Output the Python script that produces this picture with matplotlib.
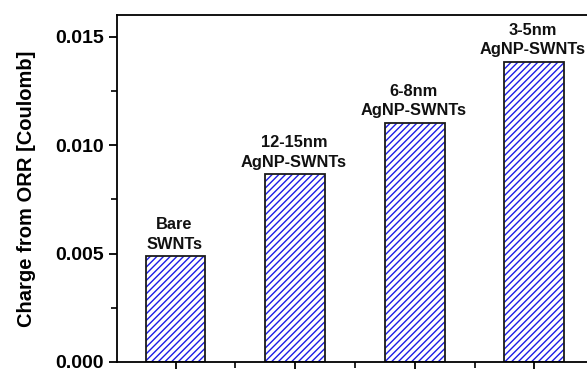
import numpy as np
import matplotlib
matplotlib.use("Agg")
import matplotlib.pyplot as plt

plt.rcParams['font.family'] = ['Liberation Sans', 'DejaVu Sans']
plt.rcParams['font.weight'] = 'bold'
plt.rcParams['hatch.linewidth'] = 1.0

# charge from ORR for each electrode
samples = ["Bare\nSWNTs", "12-15nm\nAgNP-SWNTs", "6-8nm\nAgNP-SWNTs", "3-5nm\nAgNP-SWNTs"]
charge = [0.00488, 0.00865, 0.01104, 0.01385]
pos = np.arange(1, len(samples) + 1)

fig = plt.figure(figsize=(5.87, 3.69), dpi=100)
ax = fig.add_axes([117/587, 7/369, (587 - 117)/587 + 0.01, (362 - 15)/369])

# hatch in blue, outline in black
ax.bar(pos, charge, width=0.5, color='white', edgecolor='#1c1ce6', hatch='/////', linewidth=0)
ax.bar(pos, charge, width=0.5, fill=False, edgecolor='#1a1a1a', linewidth=1.3)

for x, y, s in zip(pos, charge, samples):
    ax.annotate(s, (x, y), xytext=(-1, 3), textcoords='offset points',
                ha='center', va='bottom', fontsize=11.8, fontweight='bold',
                linespacing=1.4, color='#111111')

ax.set_xlim(0.51, 4.49)
ax.set_ylim(0, 0.016)
ax.set_yticks([0.0, 0.005, 0.010, 0.015])
ax.set_yticklabels(["0.000", "0.005", "0.010", "0.015"])
ax.set_yticks(np.arange(0.0025, 0.016, 0.005), minor=True)
ax.set_xticks(pos)
ax.set_xticklabels([])
ax.set_xticks(pos[:-1] + 0.5, minor=True)

ax.tick_params(which='major', direction='out', length=6, width=1.3, labelsize=14)
ax.tick_params(which='minor', direction='out', length=4, width=1.2)
for sp in ax.spines.values():
    sp.set_linewidth(1.3)

ax.set_ylabel("Charge from ORR [Coulomb]", fontsize=14.5, fontweight='bold', labelpad=14)

fig.savefig("out.png", dpi=100)
